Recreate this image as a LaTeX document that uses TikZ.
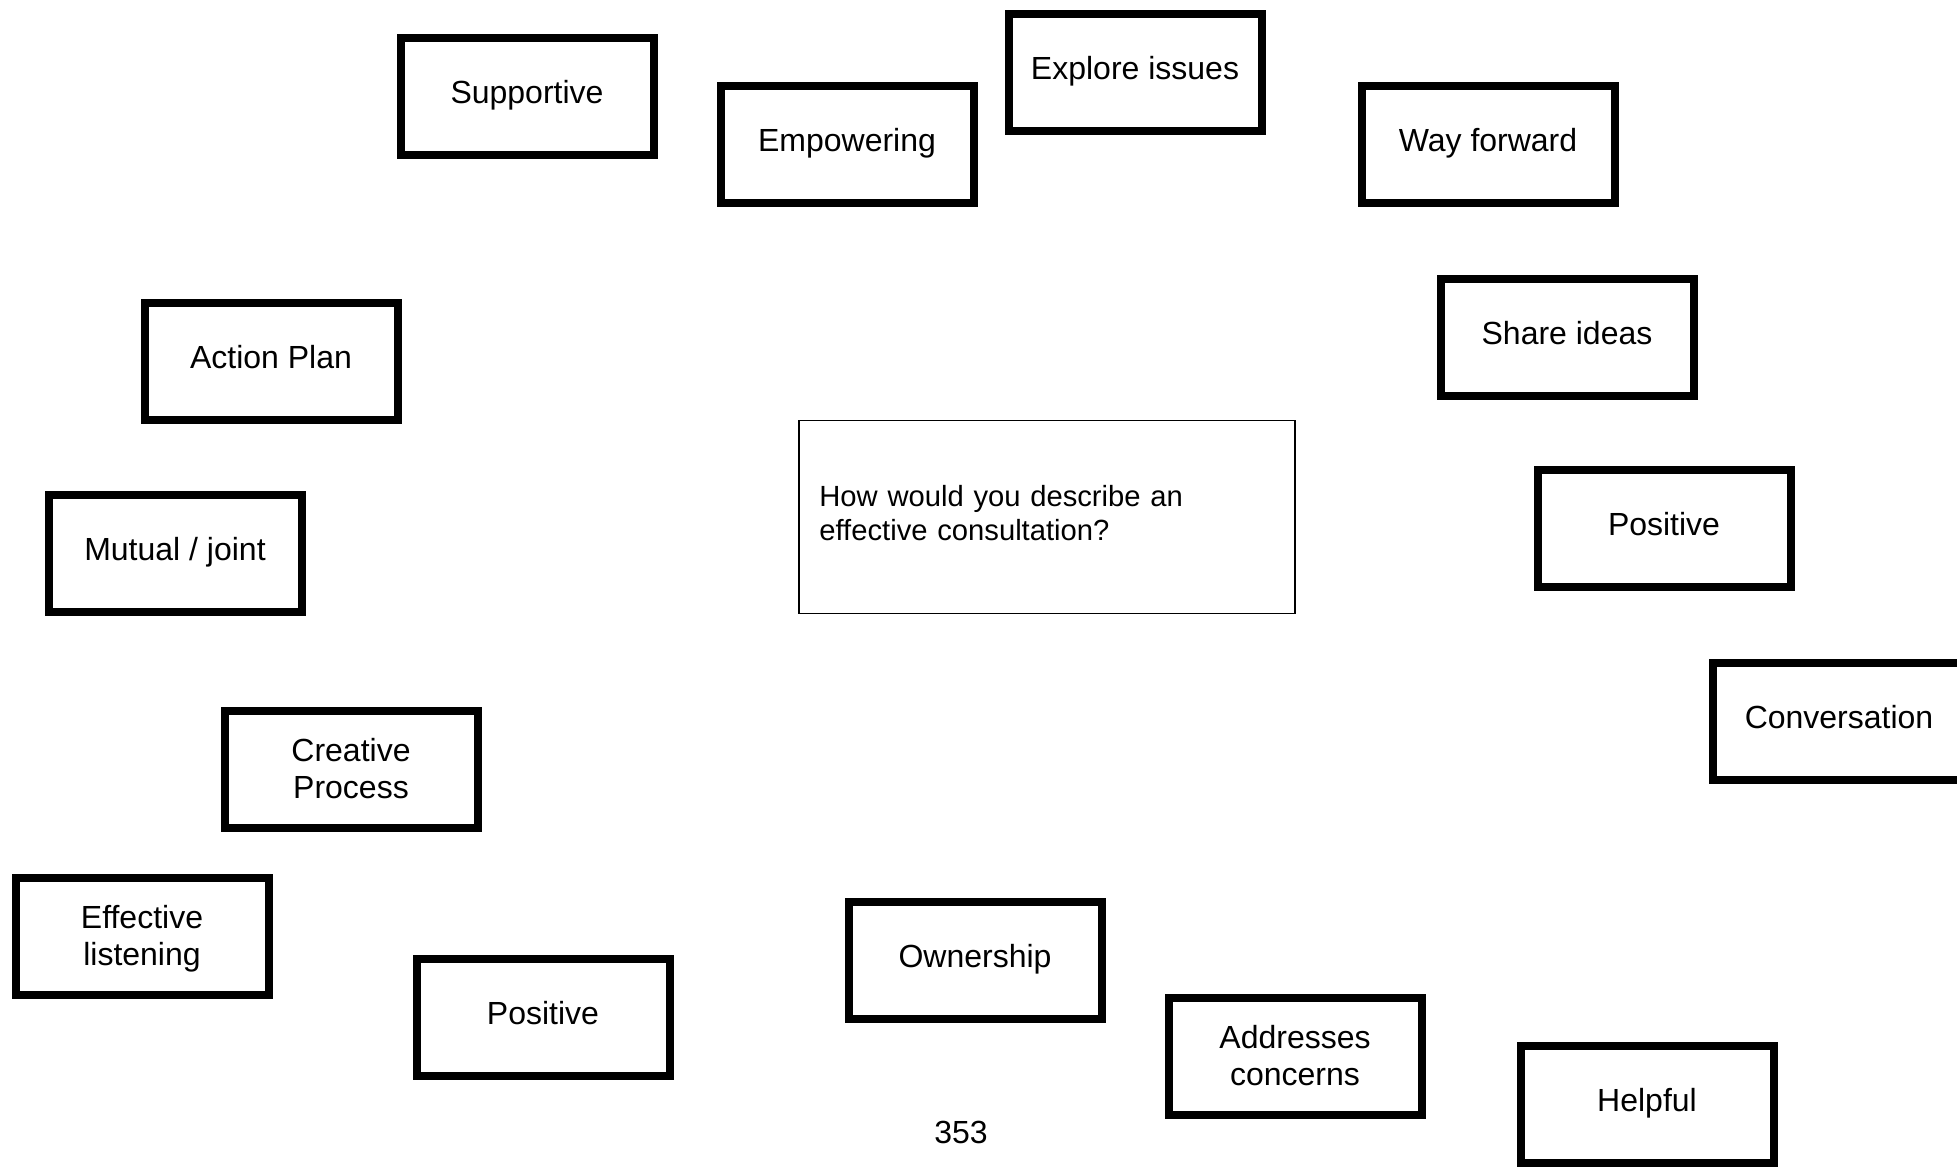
\documentclass[tikz,border=0pt]{standalone}
\usepackage{fontspec}
\setmainfont{Liberation Sans}
\begin{document}
\begin{tikzpicture}[x=0.5pt, y=-0.5pt,
  box/.style={draw, line width=4pt, minimum width=126.5pt,
    minimum height=58.5pt, inner sep=0pt},
  word/.style={anchor=base, inner sep=0pt, font=\fontsize{16}{18.5}\selectfont},
  words/.style={word, align=center, text width=124pt},
  question/.style={draw, line width=0.75pt, minimum width=248pt,
    minimum height=96.5pt, inner sep=0pt}]
% page area; the last box runs off the right edge
\clip (0,0) rectangle (1957,1166);
\fill[white] (0,0) rectangle (1957,1166);

% central question
\node[question] (q) at (1047,517) {};
\node[anchor=base west, inner sep=0pt, align=left, text width=240pt,
  font=\fontsize{14.6}{17}\selectfont] (qT) at (819,506)
  {How would you describe an\\effective consultation?};

% top row
\node[box] (sup) at (527,97) {};
\node[word] (supT) at ([yshift=-3.5pt]sup.center) {Supportive};
\node[box] (emp) at (847,145) {};
\node[word] (empT) at ([yshift=-3.5pt]emp.center) {Empowering};
\node[box] (exp) at (1135,73) {};
\node[word] (expT) at ([yshift=-3.5pt]exp.center) {Explore issues};
\node[box] (way) at (1488,145) {};
\node[word] (wayT) at ([yshift=-3.5pt]way.center) {Way forward};

% right side
\node[box] (sha) at (1567,337) {};
\node[word] (shaT) at ([yshift=-3.5pt]sha.center) {Share ideas};
\node[box] (posR) at (1664,528) {};
\node[word] (posRT) at ([yshift=-3.5pt]posR.center) {Positive};
\node[box] (con) at (1839,721) {};
\node[word] (conT) at ([yshift=-3.5pt]con.center) {Conversation};

% left side
\node[box] (act) at (271,361) {};
\node[word] (actT) at ([yshift=-3.5pt]act.center) {Action Plan};
\node[box] (mut) at (175,553) {};
\node[word] (mutT) at ([yshift=-3.5pt]mut.center) {Mutual / joint};
\node[box] (cre) at (351,769) {};
\node[words] (creT) at ([yshift=4pt]cre.center) {Creative\\Process};
\node[box] (eff) at (142,936) {};
\node[words] (effT) at ([yshift=4pt]eff.center) {Effective\\listening};

% bottom row
\node[box] (posB) at (543,1017) {};
\node[word] (posBT) at ([yshift=-3.5pt]posB.center) {Positive};
\node[box] (own) at (975,960) {};
\node[word] (ownT) at ([yshift=-3.5pt]own.center) {Ownership};
\node[box] (add) at (1295,1056) {};
\node[words] (addT) at ([yshift=4pt]add.center) {Addresses\\concerns};
\node[box] (hel) at (1647,1104) {};
\node[word] (helT) at ([yshift=-3.5pt]hel.center) {Helpful};

% page number
\node[word] (pg) at (961,1143.5) {353};
\end{tikzpicture}
\end{document}
